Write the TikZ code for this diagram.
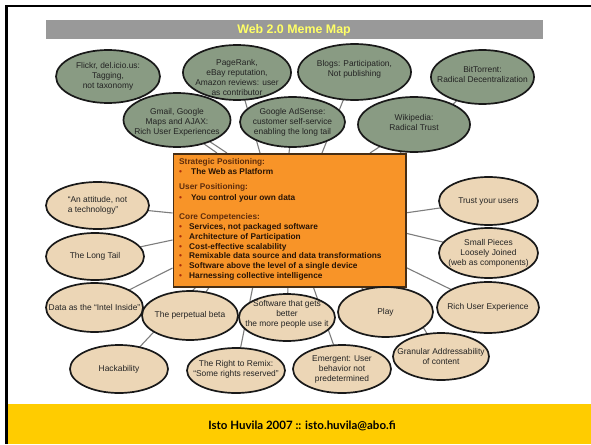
\documentclass[tikz,border=0pt]{standalone}
\usepackage{fontspec}
\setmainfont{Liberation Sans}
\newfontfamily\footfont{Lato}
\usetikzlibrary{shapes.geometric,backgrounds}
\definecolor{gfill}{RGB}{137,155,131}
\definecolor{tfill}{RGB}{236,214,182}
\definecolor{ofill}{RGB}{248,148,40}
\definecolor{obord}{RGB}{70,45,20}
\definecolor{lgray}{RGB}{125,125,125}
\definecolor{tbar}{RGB}{153,153,153}
\definecolor{tyel}{RGB}{255,255,102}
\definecolor{fyel}{RGB}{255,204,0}
\definecolor{hdcol}{RGB}{95,45,12}
\definecolor{itcol}{RGB}{40,20,5}
\definecolor{bulcol}{RGB}{170,45,10}
\definecolor{etxtc}{RGB}{35,35,35}
\tikzset{
 ell/.style={ellipse, draw=black!90, line width=1.7pt, inner sep=0pt},
 gell/.style={ell, fill=gfill},
 tell/.style={ell, fill=tfill},
 etxt/.style={align=center, font=\fontsize{8.4}{10}\selectfont, text=etxtc, inner sep=0pt},
 conn/.style={draw=lgray, line width=1.1pt},
 hd/.style={anchor=base west, inner sep=0pt, font=\bfseries\fontsize{8.3}{10}\selectfont, text=hdcol},
 itm/.style={anchor=base west, inner sep=0pt, font=\bfseries\fontsize{8.3}{10}\selectfont, text=itcol},
}
\newcommand{\bul}[1]{\makebox[#1][l]{\textcolor{bulcol}{\textbullet}}}
\begin{document}
\begin{tikzpicture}[x=1pt,y=-1pt]
\useasboundingbox (0,0) rectangle (591,444);
% frame, title, footer
\fill[black] (5,5) rectangle (591,7.5);
\fill[black] (5,5) rectangle (7.5,444);
\fill[fyel] (7.5,404) rectangle (591,444);
\fill[tbar] (46,20) rectangle (543,39);
\node[inner sep=0pt, text=tyel, font=\bfseries\fontsize{12.4}{14}\selectfont] (title) at (294,30.5) {Web 2.0 Meme Map};
\node[inner sep=0pt, font=\footfont\bfseries\fontsize{11.5}{14}\selectfont] (foot) at (302,426) {Isto Huvila 2007 :: isto.huvila@abo.fi};

% central box
\node[draw=obord, fill=ofill, line width=1.5pt, minimum width=232.5, minimum height=133, anchor=north west, inner sep=0pt] (box) at (172.5,153) {};
\node[hd] (h1) at (179,164) {Strategic Positioning:};
\node[itm] (i1) at (179,174.5) {\bul{12pt}The Web as Platform};
\node[hd] (h2) at (179,189) {User Positioning:};
\node[itm] (i2) at (179,200) {\bul{12pt}You control your own data};
\node[hd] (h3) at (179,219.5) {Core Competencies:};
\node[itm] (c1) at (179,229.5) {\bul{10pt}Services, not packaged software};
\node[itm] (c2) at (179,239.3) {\bul{10pt}Architecture of Participation};
\node[itm] (c3) at (179,249.1) {\bul{10pt}Cost-effective scalability};
\node[itm] (c4) at (179,258.9) {\bul{10pt}Remixable data source and data transformations};
\node[itm] (c5) at (179,268.7) {\bul{10pt}Software above the level of a single device};
\node[itm] (c6) at (179,278.5) {\bul{10pt}Harnessing collective intelligence};

% green ellipses
\node[gell, minimum width=104, minimum height=53, label={[etxt]center:{Flickr, del.icio.us:\\Tagging,\\not taxonomy}}] (flickr) at (108,76.5) {};
\node[gell, minimum width=108, minimum height=55, label={[etxt,yshift=-4.5pt]center:{PageRank,\\eBay reputation,\\Amazon reviews: user\\as contributor}}] (page) at (237,72.5) {};
\node[gell, minimum width=113, minimum height=56, label={[etxt,yshift=3pt]center:{Blogs: Participation,\\Not publishing}}] (blogs) at (354.5,72) {};
\node[gell, minimum width=103, minimum height=54, label={[etxt,yshift=3pt]center:{BitTorrent:\\Radical Decentralization}}] (bit) at (482.5,77) {};
\node[gell, minimum width=107, minimum height=54, label={[etxt,yshift=-2pt]center:{Gmail, Google\\Maps and AJAX:\\Rich User Experiences}}] (gmail) at (177,120) {};
\node[gell, minimum width=105, minimum height=50, label={[etxt]center:{Google AdSense:\\customer self-service\\enabling the long tail}}] (adsense) at (292.5,122) {};
\node[gell, minimum width=112, minimum height=55, label={[etxt,yshift=2.5pt]center:{Wikipedia:\\Radical Trust}}] (wiki) at (414,124.5) {};

% tan ellipses
\node[tell, minimum width=103, minimum height=47, label={[etxt,align=left]center:{“An attitude, not\\a technology”}}] (att) at (97.5,205.5) {};
\node[tell, minimum width=98, minimum height=47, label={[etxt]center:{The Long Tail}}] (long) at (95,256.5) {};
\node[tell, minimum width=97, minimum height=49, label={[etxt]center:{Data as the “Intel Inside”}}] (intel) at (94.5,307.5) {};
\node[tell, minimum width=96, minimum height=49, label={[etxt]center:{The perpetual beta}}] (beta) at (190,315.5) {};
\node[tell, minimum width=96, minimum height=47, label={[etxt,yshift=3.5pt]center:{Software that gets\\better\\the more people use it}}] (soft) at (287,317.5) {};
\node[tell, minimum width=95, minimum height=50, label={[etxt]center:{Play}}] (play) at (385.5,312) {};
\node[tell, minimum width=98, minimum height=48, label={[etxt]center:{Hackability}}] (hack) at (119,369) {};
\node[tell, minimum width=98, minimum height=45, label={[etxt,yshift=1pt]center:{The Right to Remix:\\“Some rights reserved”}}] (remix) at (236,370.5) {};
\node[tell, minimum width=98, minimum height=48, label={[etxt]center:{Emergent: User\\behavior not\\predetermined}}] (emerg) at (342,369) {};
\node[tell, minimum width=96, minimum height=47, label={[etxt]center:{Granular Addressability\\of content}}] (gran) at (441,356.5) {};
\node[tell, minimum width=99, minimum height=48, label={[etxt]center:{Trust your users}}] (trust) at (488.5,201) {};
\node[tell, minimum width=99, minimum height=50, label={[etxt]center:{Small Pieces\\Loosely Joined\\(web as components)}}] (small) at (488.5,253) {};
\node[tell, minimum width=102, minimum height=51, label={[etxt]center:{Rich User Experience}}] (rich) at (488,307.5) {};

% connector end points on the box
\coordinate (pFlickr) at (217,153);
\coordinate (pGmail) at (227,153);
\coordinate (pPage) at (260,153);
\coordinate (pAd) at (289,153);
\coordinate (pBlogs) at (322,153);
\coordinate (pWiki) at (370,153);
\coordinate (pBit) at (400,153);
\coordinate (pAtt) at (172.5,213);
\coordinate (pLong) at (172.5,240);
\coordinate (pIntel) at (172.5,268);
\coordinate (pHack) at (197,286);
\coordinate (pBeta) at (210,286);
\coordinate (pRemix) at (253,286);
\coordinate (pSoft) at (288,286);
\coordinate (pEmerg) at (313,286);
\coordinate (pPlay) at (360,286);
\coordinate (pGran) at (398,286);
\coordinate (pTrust) at (405,213);
\coordinate (pSmall) at (405,233);
\coordinate (pRich) at (405,267);

\begin{scope}[on background layer]
\draw[conn] (flickr.center) -- (pFlickr);
\draw[conn] (gmail.center) -- (pGmail);
\draw[conn] (page.center) -- (pPage);
\draw[conn] (adsense.center) -- (pAd);
\draw[conn] (blogs.center) -- (pBlogs);
\draw[conn] (wiki.center) -- (pWiki);
\draw[conn] (bit.center) -- (pBit);
\draw[conn] (att.center) -- (pAtt);
\draw[conn] (long.center) -- (pLong);
\draw[conn] (intel.center) -- (pIntel);
\draw[conn] (hack.center) -- (pHack);
\draw[conn] (beta.center) -- (pBeta);
\draw[conn] (remix.center) -- (pRemix);
\draw[conn] (soft.center) -- (pSoft);
\draw[conn] (emerg.center) -- (pEmerg);
\draw[conn] (play.center) -- (pPlay);
\draw[conn] (gran.center) -- (pGran);
\draw[conn] (trust.center) -- (pTrust);
\draw[conn] (small.center) -- (pSmall);
\draw[conn] (rich.center) -- (pRich);
\end{scope}
\end{tikzpicture}
\end{document}
